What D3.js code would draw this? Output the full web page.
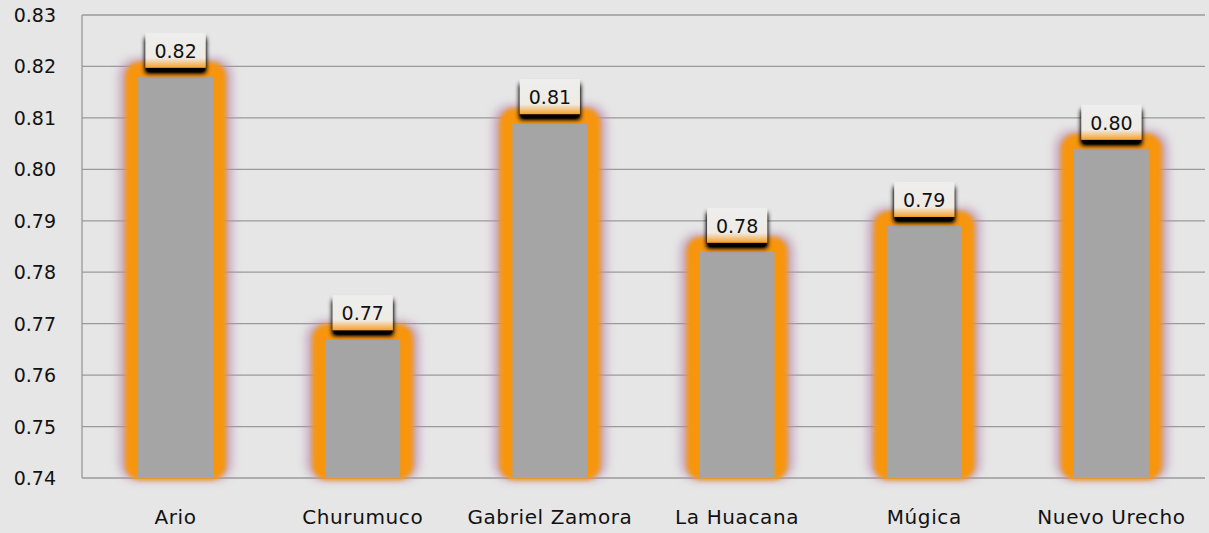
<!DOCTYPE html>
<html>
<head>
<meta charset="utf-8">
<script src="https://cdn.jsdelivr.net/npm/d3@7"></script>
<style>
  body { margin: 0; background: #e6e6e6; }
  svg { display: block; font-family: "DejaVu Sans", sans-serif; }
</style>
</head>
<body>
<div id="chart"></div>
<script>
// chart data
var categories = ["Ario", "Churumuco", "Gabriel Zamora", "La Huacana", "Múgica", "Nuevo Urecho"];
var values = [0.818, 0.767, 0.809, 0.784, 0.789, 0.804];
var yTicks = [0.74, 0.75, 0.76, 0.77, 0.78, 0.79, 0.80, 0.81, 0.82, 0.83];

var width = 1209;
var height = 533;

var svg = d3.select("#chart").append("svg")
    .attr("width", width)
    .attr("height", height);

svg.append("rect")
    .attr("width", width)
    .attr("height", height)
    .attr("fill", "#e6e6e6");

var defs = svg.append("defs");

// soft halo round the bars
defs.append("filter").attr("id", "halo")
    .attr("x", "-50%").attr("y", "-20%").attr("width", "200%").attr("height", "140%")
    .append("feGaussianBlur").attr("stdDeviation", 5);

defs.append("filter").attr("id", "soft")
    .attr("x", "-20%").attr("y", "-20%").attr("width", "140%").attr("height", "140%")
    .append("feGaussianBlur").attr("stdDeviation", 2);

// drop shadow for the value boxes
var shadow = defs.append("filter").attr("id", "boxShadow")
    .attr("x", "-40%").attr("y", "-40%").attr("width", "180%").attr("height", "200%");
shadow.append("feGaussianBlur").attr("in", "SourceAlpha").attr("stdDeviation", 2.5).attr("result", "blur");
shadow.append("feOffset").attr("in", "blur").attr("dy", 5).attr("result", "off");
shadow.append("feComponentTransfer").attr("in", "off").attr("result", "dark")
    .append("feFuncA").attr("type", "linear").attr("slope", 1.6);
var merge = shadow.append("feMerge");
merge.append("feMergeNode").attr("in", "dark");
merge.append("feMergeNode").attr("in", "SourceGraphic");

var grad = defs.append("linearGradient").attr("id", "boxFill")
    .attr("x1", 0).attr("y1", 0).attr("x2", 0).attr("y2", 1);
grad.append("stop").attr("offset", "0").attr("stop-color", "#eeeeee");
grad.append("stop").attr("offset", "0.72").attr("stop-color", "#efebe4");
grad.append("stop").attr("offset", "1").attr("stop-color", "#f6a02c");

var x = d3.scaleBand()
    .domain(categories)
    .range([82, 1205])
    .paddingInner(0.6)
    .paddingOuter(0.3);

var y = d3.scaleLinear()
    .domain([0.74, 0.83])
    .range([478, 15]);

// grid lines
svg.append("g")
    .selectAll("line")
    .data(yTicks)
    .enter()
    .append("line")
    .attr("x1", 82)
    .attr("x2", 1205)
    .attr("y1", d => y(d))
    .attr("y2", d => y(d))
    .attr("stroke", "#9a9a9a")
    .attr("stroke-width", 1.3);

svg.append("line")
    .attr("x1", 82).attr("x2", 82)
    .attr("y1", y(0.83)).attr("y2", y(0.74))
    .attr("stroke", "#9a9a9a")
    .attr("stroke-width", 1.3);

// y tick labels
svg.append("g")
    .selectAll("text")
    .data(yTicks)
    .enter()
    .append("text")
    .attr("x", 56)
    .attr("y", d => y(d) + 7)
    .attr("text-anchor", "end")
    .attr("font-size", "19px")
    .attr("fill", "#111")
    .text(d => d3.format(".2f")(d));

var bars = svg.append("g")
    .selectAll("g")
    .data(categories)
    .enter()
    .append("g");

// purple-ish outer glow
bars.append("rect")
    .attr("x", d => x(d) - 19)
    .attr("y", (d, i) => y(values[i]) - 18)
    .attr("width", x.bandwidth() + 38)
    .attr("height", (d, i) => y(0.74) - y(values[i]) + 20)
    .attr("rx", 17)
    .attr("fill", "#b88aae")
    .attr("opacity", 0.7)
    .attr("filter", "url(#halo)");

// orange border
bars.append("rect")
    .attr("x", d => x(d) - 13)
    .attr("y", (d, i) => y(values[i]) - 15)
    .attr("width", x.bandwidth() + 26)
    .attr("height", (d, i) => y(0.74) - y(values[i]) + 17)
    .attr("rx", 15)
    .attr("fill", "#f7950c")
    .attr("filter", "url(#soft)");

// grey bar
bars.append("rect")
    .attr("x", d => x(d))
    .attr("y", (d, i) => y(values[i]))
    .attr("width", x.bandwidth())
    .attr("height", (d, i) => y(0.74) - y(values[i]))
    .attr("fill", "#a5a5a5");

// value boxes
bars.append("rect")
    .attr("x", d => x(d) + x.bandwidth() / 2 - 30)
    .attr("y", (d, i) => y(values[i]) - 44)
    .attr("width", 60)
    .attr("height", 35)
    .attr("fill", "url(#boxFill)")
    .attr("filter", "url(#boxShadow)");

bars.append("text")
    .attr("x", d => x(d) + x.bandwidth() / 2)
    .attr("y", (d, i) => y(values[i]) - 19)
    .attr("text-anchor", "middle")
    .attr("font-size", "19px")
    .attr("fill", "#111")
    .text((d, i) => d3.format(".2f")(values[i]));

// x labels
svg.append("g")
    .selectAll("text")
    .data(categories)
    .enter()
    .append("text")
    .attr("x", d => x(d) + x.bandwidth() / 2)
    .attr("y", 524)
    .attr("text-anchor", "middle")
    .attr("font-size", "20px")
    .attr("letter-spacing", "0.6px")
    .attr("fill", "#111")
    .text(d => d);
</script>
</body>
</html>
